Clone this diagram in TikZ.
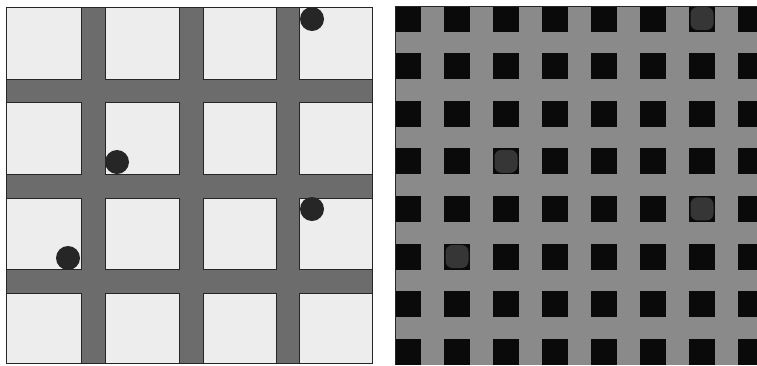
\documentclass[tikz,border=0pt]{standalone}
\usepackage{xcolor}
\definecolor{barGray}{HTML}{6C6C6C}
\definecolor{cellWhite}{HTML}{EDEDED}
\definecolor{meshGray}{HTML}{8A8A8A}
\definecolor{holeBlack}{HTML}{0A0A0A}
\definecolor{holeDim}{HTML}{363636}
\definecolor{dotBlack}{HTML}{262626}

\begin{document}
\begin{tikzpicture}[x=1pt,y=-1pt]
		\useasboundingbox (0,0) rectangle (757,365);
		% left panel: coarse grid with particles
		\fill[barGray] (6,7) rectangle (372,363);
		\foreach \xa/\xb in {6/81,105/179,203/276,299/372}
			\foreach \ya/\yb in {7/79,102/174,198/269,293/363}
				\draw[thick,fill=cellWhite,draw=black!85] (\xa,\ya) rectangle (\xb,\yb);
		\draw[thick,draw=black!85] (6,7) rectangle (372,363);
		\foreach \cx/\cy in {312/19,117/162,312/209,68/258}
			\fill[dotBlack] (\cx,\cy) circle (12);
		% right panel: fine mesh
		\begin{scope}
		\clip (395,6) rectangle (757,365);
		\fill[meshGray] (395,6) rectangle (757,365);
		\foreach \i in {0,...,7}
			\foreach \j in {0,...,7}
				\fill[holeBlack] (395+49*\i,5.5+47.6*\j) rectangle ++(26,26);
		\foreach \i/\j in {6/0,2/3,6/4,1/5}
			\fill[holeDim,rounded corners=7pt] (395+49*\i+1.5,5.5+47.6*\j+1.5) rectangle ++(23,23);
		\end{scope}
		\draw[thick,draw=black!85] (757,6) -- (395,6) -- (395,365);
		\end{tikzpicture}
\end{document}
